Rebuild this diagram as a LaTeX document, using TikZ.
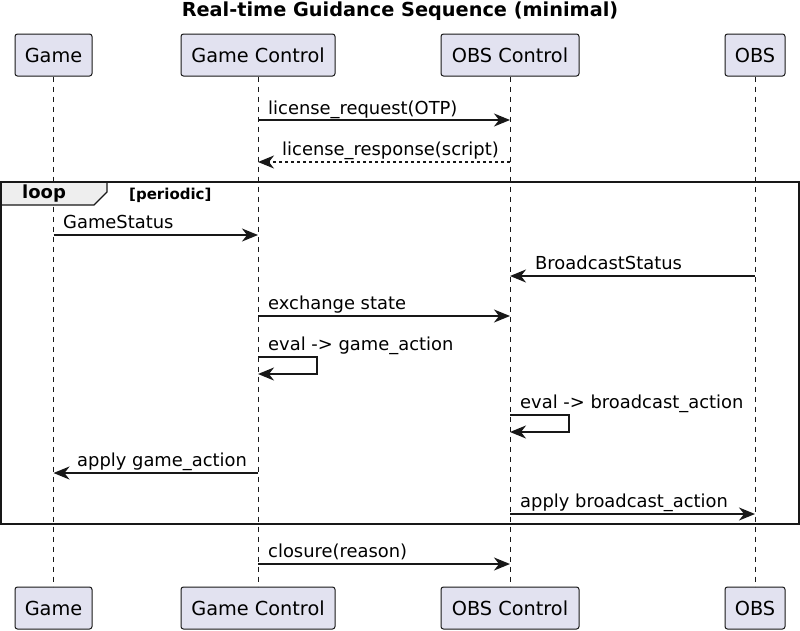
\documentclass[tikz,border=0pt]{standalone}
\usepackage{fontspec}
\setmainfont{DejaVu Sans}
\usetikzlibrary{arrows.meta}
\definecolor{partfill}{HTML}{E2E2F0}
\definecolor{ink}{HTML}{181818}
\definecolor{tabfill}{HTML}{EEEEEE}
\begin{document}
\begin{tikzpicture}[x=1pt,y=-1pt,
  part/.style={draw=ink, fill=partfill, line width=1pt, rounded corners=2.5pt, inner sep=0pt,
    minimum height=42pt, font=\fontsize{19.3}{23}\selectfont, text=black},
  lifeline/.style={draw=ink, line width=0.8pt, dash pattern=on 5pt off 5pt},
  msg/.style={draw=ink, line width=1.6pt, -{Stealth[length=16pt,width=13pt,inset=5pt]}},
  dmsg/.style={msg, dash pattern=on 3pt off 3pt},
  lbl/.style={anchor=base west, inner sep=0pt, font=\fontsize{17.9}{21}\selectfont, text=black},
  title/.style={font=\bfseries\fontsize{19.3}{23}\selectfont, text=black, inner sep=0pt},
]
\useasboundingbox (0,0) rectangle (800,630);
\fill[white] (0,0) rectangle (800,630);

\node[title] (ttl) at (400,11) {Real-time Guidance Sequence (minimal)};

% participants
\node[part, minimum width=77pt]  (gT)  at (53.5,55) {Game};
\node[part, minimum width=154pt] (gcT) at (258,55) {Game Control};
\node[part, minimum width=138pt] (ocT) at (510,55) {OBS Control};
\node[part, minimum width=60pt]  (oT)  at (755,55) {OBS};
\node[part, minimum width=77pt]  (gB)  at (53.5,608) {Game};
\node[part, minimum width=154pt] (gcB) at (258,608) {Game Control};
\node[part, minimum width=138pt] (ocB) at (510,608) {OBS Control};
\node[part, minimum width=60pt]  (oB)  at (755,608) {OBS};

% lifelines
\draw[lifeline] (gT.south) -- (gB.north);
\draw[lifeline] (gcT.south) -- (gcB.north);
\draw[lifeline] (ocT.south) -- (ocB.north);
\draw[lifeline] (oT.south) -- (oB.north);

% license exchange
\draw[msg] (gcT |- 0,120) -- (ocT |- 0,120);
\node[lbl] (l1) at (268,114) {license\_request(OTP)};
\draw[dmsg] (ocT |- 0,162) -- (gcT |- 0,162);
\node[lbl] (l2) at (282,155) {license\_response(script)};

% loop frame
\draw[fill=tabfill, draw=ink, line width=1.3pt] (1,182) -- (107,182) -- (107,192) -- (94,205) -- (1,205) -- cycle;
\draw[draw=ink, line width=2pt] (1,182) rectangle (799,524);
\node[font=\bfseries\fontsize{18}{20}\selectfont, inner sep=0pt] (loopt) at (44,194) {loop};
\node[font=\bfseries\fontsize{15}{18}\selectfont, inner sep=0pt, anchor=west] (cond) at (129,195) {[periodic]};

\draw[msg] (gT |- 0,235) -- (gcT |- 0,235);
\node[lbl] (l3) at (63,228) {GameStatus};

\draw[msg] (oT |- 0,276) -- (ocT |- 0,276);
\node[lbl] (l4) at (535,269) {BroadcastStatus};

\draw[msg] (gcT |- 0,316) -- (ocT |- 0,316);
\node[lbl] (l5) at (268,309) {exchange state};

\draw[msg] (gcT |- 0,357) -- ++(59,0) -- ++(0,17) -- (gcT |- 0,374);
\node[lbl] (l6) at (268,350) {eval -> game\_action};

\draw[msg] (ocT |- 0,415) -- ++(59,0) -- ++(0,17) -- (ocT |- 0,432);
\node[lbl] (l7) at (520,408) {eval -> broadcast\_action};

\draw[msg] (gcT |- 0,473) -- (gT |- 0,473);
\node[lbl] (l8) at (77,466) {apply game\_action};

\draw[msg] (ocT |- 0,514) -- (oT |- 0,514);
\node[lbl] (l9) at (520,507) {apply broadcast\_action};

\draw[msg] (gcT |- 0,564) -- (ocT |- 0,564);
\node[lbl] (l10) at (268,557) {closure(reason)};
\end{tikzpicture}
\end{document}
